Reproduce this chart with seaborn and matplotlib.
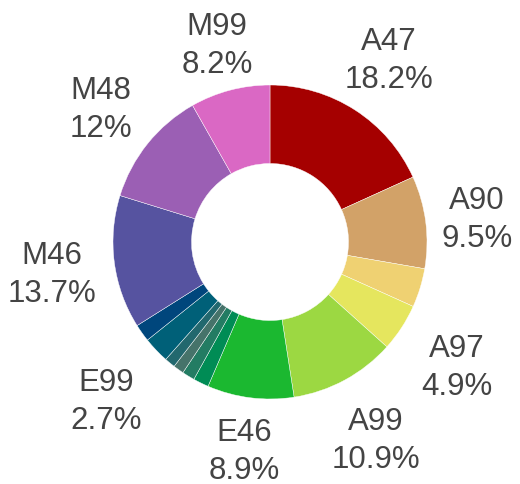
import matplotlib
matplotlib.use("Agg")
import matplotlib.pyplot as plt
import numpy as np
import seaborn as sns

labels = ["A47", "A90", "", "A97", "A99", "E46", "", "", "", "", "E99", "", "M46", "M48", "M99"]
shares = [18.2, 9.5, 4.0, 4.9, 10.9, 8.9, 1.6, 1.3, 1.1, 1.1, 2.7, 1.8, 13.7, 12.0, 8.2]
pct_text = ["18.2%", "9.5%", "", "4.9%", "10.9%", "8.9%", "", "", "", "", "2.7%", "", "13.7%", "12%", "8.2%"]
colors = ["#A50000", "#D2A268", "#EFD172", "#E5E65E", "#9CD842", "#1BB830", "#008C55", "#237C63",
          "#46736A", "#22686E", "#006078", "#00467C", "#5653A0", "#9B5FB4", "#DA68C4"]

sns.set_theme(style="white")
plt.rcParams['font.family'] = ['Liberation Sans', 'DejaVu Sans']

fig = plt.figure(figsize=(5.2, 4.85), dpi=100)
ax = fig.add_axes([0, 0, 1, 1])

# label text: name on top, percent below
texts = [f"{n}\n{p}" if n else "" for n, p in zip(labels, pct_text)]

wedges, lbls = ax.pie(shares, labels=texts, colors=colors, startangle=90, counterclock=False,
                      radius=1.0, labeldistance=1.38,
                      wedgeprops=dict(width=0.5, edgecolor="white", linewidth=0.3),
                      textprops=dict(fontsize=22.5, color="#444444", linespacing=1.35))

# label distance per slice (in radii), tuned to the reference layout
label_r = [1.40, 1.33, 1.38, 1.42, 1.41, 1.32, 1.38, 1.38, 1.38, 1.38, 1.44, 1.38, 1.40, 1.38, 1.32]
for w, t, r in zip(wedges, lbls, label_r):
    mid = np.deg2rad((w.theta1 + w.theta2) / 2)
    t.set_position((r * np.cos(mid), r * np.sin(mid) - 0.02))
    t.set_ha("center")
    t.set_va("center")

# 157 px per unit radius, pie centre at (270, 242) from bottom-left
ax.set_aspect("auto")
ax.set_xlim(-270 / 157, 250 / 157)
ax.set_ylim(-242 / 157, 243 / 157)
ax.axis("off")

fig.savefig("out.png", dpi=100)
